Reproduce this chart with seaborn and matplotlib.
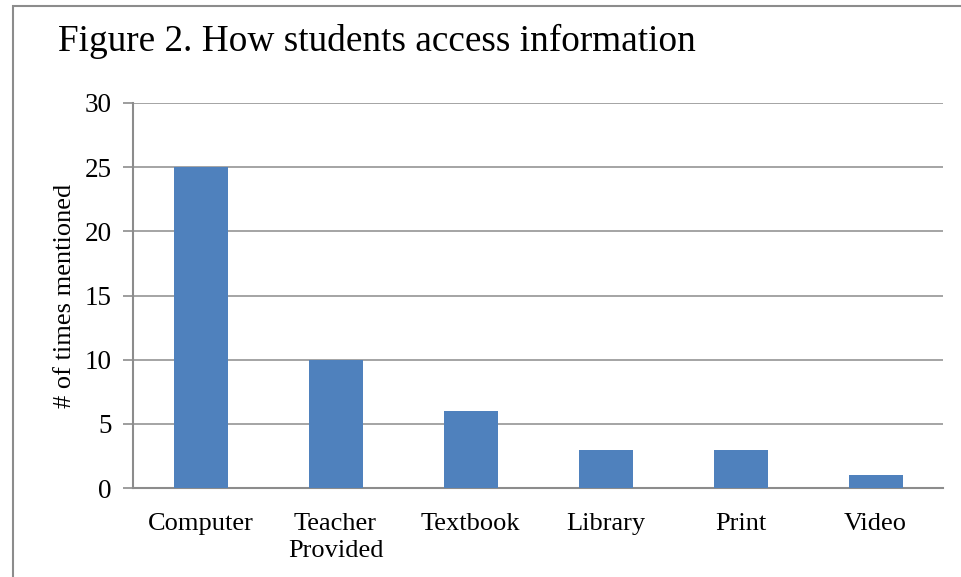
import numpy as np
import pandas as pd
import seaborn as sns
from matplotlib import pyplot as plt
from matplotlib.patches import Rectangle

sources = ["Computer", "Teacher\nProvided", "Textbook", "Library", "Print", "Video"]
mentions = [25, 10, 6, 3, 3, 1]
y_ticks = [0, 5, 10, 15, 20, 25, 30]

bar_color = "#4F81BD"
line_color = "#8C8C8C"

sns.set_theme(style="white")
plt.rcParams["font.family"] = ["Liberation Serif", "DejaVu Serif"]
plt.rcParams["text.color"] = "black"
plt.rcParams["axes.labelcolor"] = "black"
plt.rcParams["xtick.labelcolor"] = "black"
plt.rcParams["ytick.labelcolor"] = "black"

data = pd.DataFrame({"source": sources, "mentions": mentions})

fig = plt.figure(figsize=(9.61, 5.77), dpi=100)
ax = fig.add_axes([133 / 961, 1 - 488 / 577, (943 - 133) / 961, (488 - 103) / 577])

sns.barplot(ax=ax, data=data, x="source", y="mentions", color=bar_color,
            width=0.4, saturation=1, linewidth=0, zorder=3)

ax.set_xlim(-0.5, len(sources) - 0.5)
ax.set_ylim(0, 30)
ax.set_yticks(y_ticks)
ax.set_yticklabels([str(t) for t in y_ticks], fontsize=19.5)
ax.set_xticks(np.arange(len(sources)))
ax.set_xticklabels(sources, fontsize=19, linespacing=1.3)
ax.set_xticks(np.arange(-0.5, len(sources), 1.0), minor=True)
ax.tick_params(axis="x", which="major", length=0, pad=18)
ax.tick_params(axis="x", which="minor", length=8, width=1.5, color=line_color, direction="out")
ax.tick_params(axis="y", length=7, width=1.2, color=line_color, direction="out", left=True, pad=8.5)

ax.yaxis.grid(True, color=line_color, linewidth=1.1, zorder=0)
ax.set_axisbelow(True)
for side in ["top", "right"]:
    ax.spines[side].set_visible(False)
for side in ["left", "bottom"]:
    ax.spines[side].set_color(line_color)
    ax.spines[side].set_linewidth(1.5)

ax.set_xlabel(None)
ax.set_ylabel("# of times mentioned", fontsize=19, labelpad=6)

fig.text(58 / 961, 1 - 41 / 577, "Figure 2. How students access information",
         fontsize=26.8, va="center", ha="left")

# chart frame
fig.patches.append(Rectangle((13 / 961, -0.1), 1.2, 1 - 6 / 577 + 0.1, transform=fig.transFigure,
                             fill=False, edgecolor=line_color, linewidth=1.5))

plt.savefig("out.png", dpi=100)
